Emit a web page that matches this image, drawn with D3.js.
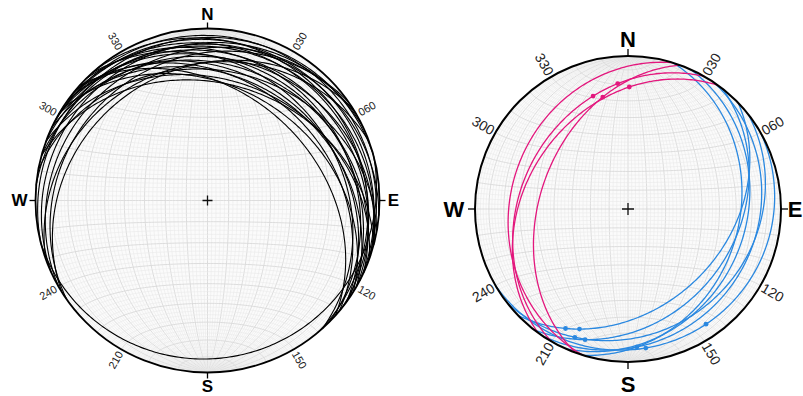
<!DOCTYPE html>
<html>
<head>
<meta charset="utf-8">
<script src="https://cdn.jsdelivr.net/npm/d3@7"></script>
<style>
  body { margin: 0; background: #fff; }
  text { font-family: "Liberation Sans", Arial, sans-serif; }
</style>
</head>
<body>
<svg id="chart" width="803" height="396"></svg>
<script>
// left net: planes as dip direction / dip (degrees)
const leftDipDir = [325, 330, 335, 340, 345, 328, 5, 10, 15, 20, 20, 25, 28, 30, 30, 32, 35, 36, 38, 40, 42, 45, 48, 50, 15, 25, 165];
const leftDip    = [18, 14, 10, 22, 6, 24, 10, 25, 18, 30, 12, 22, 8, 28, 16, 34, 20, 26, 12, 30, 37, 18, 24, 10, 32, 5, 9];

// right net: two sets of planes
const pinkDipDir = [290, 306, 300, 287];
const pinkDip    = [42, 34, 31, 24];
const blueDipDir = [107, 114, 124, 128, 136, 142, 150];
const blueDip    = [28, 24, 17, 30, 36, 20, 10];

// lineations lying on the planes: index of the plane and trend
const pinkDotPlane = [0, 1, 2, 2];
const pinkDotTrend = [347.3, 0.6, 342.8, 355.3];
const blueDotPlane = [4, 4, 5, 3, 2, 6, 6];
const blueDotTrend = [207.6, 202, 202.5, 198.2, 176.3, 172.7, 145.9];

const azValues = [30, 60, 120, 150, 210, 240, 300, 330];
const azLabels = ['030', '060', '120', '150', '210', '240', '300', '330'];
const cardinals = ['N', 'E', 'S', 'W'];
const cardinalAz = [0, 90, 180, 270];

const rad = Math.PI / 180;
const svg = d3.select('#chart');

// lower hemisphere, equal area (Schmidt)
function proj(v) {
  const k = Math.sqrt(1 / (1 + v[2]));
  return [v[0] * k, v[1] * k];
}

function greatCircle(dd, dip) {
  const s = [Math.sin((dd - 90) * rad), Math.cos((dd - 90) * rad), 0];
  const d = [Math.sin(dd * rad) * Math.cos(dip * rad), Math.cos(dd * rad) * Math.cos(dip * rad), Math.sin(dip * rad)];
  return d3.range(0, 180.5, 1).map(t => {
    const c = Math.cos(t * rad), si = Math.sin(t * rad);
    return proj([c * s[0] + si * d[0], c * s[1] + si * d[1], c * s[2] + si * d[2]]);
  });
}

function lineOnPlane(dd, dip, trend) {
  const p = Math.atan(Math.tan(dip * rad) * Math.cos((trend - dd) * rad));
  return proj([Math.sin(trend * rad) * Math.cos(p), Math.cos(trend * rad) * Math.cos(p), Math.sin(p)]);
}

function drawNet(cx, cy, R, o) {
  const g = svg.append('g');
  const x = d3.scaleLinear().domain([-1, 1]).range([cx - R, cx + R]);
  const y = d3.scaleLinear().domain([1, -1]).range([cy - R, cy + R]);
  const line = d3.line().x(d => x(d[0])).y(d => y(d[1]));

  g.append('circle').attr('cx', cx).attr('cy', cy).attr('r', R).attr('fill', '#fbfbfb');

  // grid: meridians and small circles about the N-S axis, every 2 degrees
  const grid = g.append('g').attr('fill', 'none');
  d3.range(2, 180, 2).forEach(b => {
    const pts = d3.range(0, 180.5, 1.5).map(t => proj([
      Math.sin(t * rad) * Math.cos(b * rad), Math.cos(t * rad), Math.sin(t * rad) * Math.sin(b * rad)]));
    grid.append('path').attr('d', line(pts))
      .attr('stroke', b % 10 === 0 ? '#d9d9d9' : '#e9e9e9')
      .attr('stroke-width', b % 10 === 0 ? 0.9 : 0.6);
  });
  d3.range(2, 180, 2).forEach(a => {
    const pts = d3.range(0, 180.5, 1.5).map(f => proj([
      Math.sin(a * rad) * Math.cos(f * rad), Math.cos(a * rad), Math.sin(a * rad) * Math.sin(f * rad)]));
    grid.append('path').attr('d', line(pts))
      .attr('stroke', a % 10 === 0 ? '#d9d9d9' : '#e9e9e9')
      .attr('stroke-width', a % 10 === 0 ? 0.9 : 0.6);
  });

  // planes
  o.sets.forEach(set => {
    set.dd.forEach((dd, i) => {
      g.append('path').attr('d', line(greatCircle(dd, set.dip[i])))
        .attr('fill', 'none').attr('stroke', set.color).attr('stroke-width', set.width);
    });
    if (set.dotPlane) {
      set.dotPlane.forEach((k, i) => {
        const p = lineOnPlane(set.dd[k], set.dip[k], set.dotTrend[i]);
        g.append('circle').attr('cx', x(p[0])).attr('cy', y(p[1])).attr('r', o.dotR).attr('fill', set.color);
      });
    }
  });

  // primitive
  g.append('circle').attr('cx', cx).attr('cy', cy).attr('r', R)
    .attr('fill', 'none').attr('stroke', '#000').attr('stroke-width', o.rimW);

  // centre cross
  g.append('path').attr('d', `M${cx - o.cross},${cy}H${cx + o.cross}M${cx},${cy - o.cross}V${cy + o.cross}`)
    .attr('stroke', '#111').attr('stroke-width', 1.3);

  // cardinal ticks and letters
  cardinalAz.forEach((az, i) => {
    const sx = Math.sin(az * rad), sy = -Math.cos(az * rad);
    g.append('line')
      .attr('x1', cx + sx * R).attr('y1', cy + sy * R)
      .attr('x2', cx + sx * (R + o.tick)).attr('y2', cy + sy * (R + o.tick))
      .attr('stroke', '#000').attr('stroke-width', 1.3);
    const off = R + o.cardOff[i];
    g.append('text').attr('x', cx + sx * off).attr('y', cy + sy * off)
      .attr('text-anchor', 'middle').attr('dominant-baseline', 'central')
      .attr('font-weight', 'bold').attr('font-size', o.cardSize).attr('fill', '#000')
      .text(cardinals[i]);
  });

  // degree labels
  azValues.forEach((az, i) => {
    const off = R + o.labOff;
    const px = cx + Math.sin(az * rad) * off, py = cy - Math.cos(az * rad) * off;
    const rot = az < 180 ? az - 90 : az - 270;
    g.append('text').attr('transform', `translate(${px},${py}) rotate(${rot})`)
      .attr('text-anchor', 'middle').attr('dominant-baseline', 'central')
      .attr('font-size', o.labSize).attr('fill', '#222')
      .text(azLabels[i]);
  });
}

drawNet(207.5, 200.5, 172, {
  sets: [{ dd: leftDipDir, dip: leftDip, color: '#000', width: 1.1 }],
  dotR: 2.2, rimW: 1.8, cross: 5, tick: 6,
  cardOff: [14, 14, 14, 16], cardSize: 17, labOff: 12, labSize: 11
});

drawNet(628, 209, 153, {
  sets: [
    { dd: blueDipDir, dip: blueDip, color: '#2a88e0', width: 1.3, dotPlane: blueDotPlane, dotTrend: blueDotTrend },
    { dd: pinkDipDir, dip: pinkDip, color: '#e3177d', width: 1.3, dotPlane: pinkDotPlane, dotTrend: pinkDotTrend }
  ],
  dotR: 2.4, rimW: 2, cross: 6, tick: 7,
  cardOff: [17, 14, 22, 21], cardSize: 22, labOff: 14, labSize: 14
});
</script>
</body>
</html>
